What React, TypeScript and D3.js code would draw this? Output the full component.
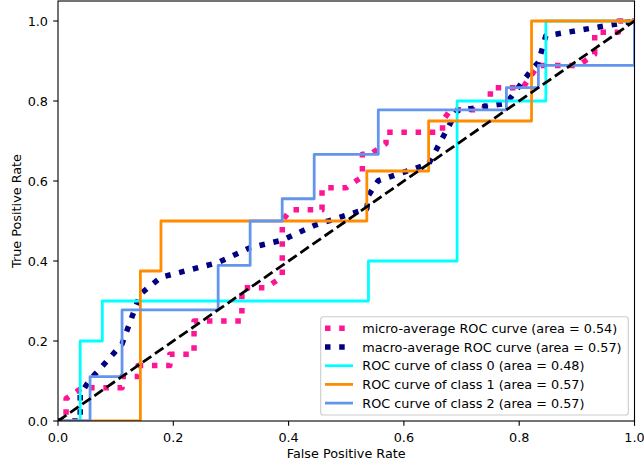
import * as d3 from 'd3';

// ROC curves
const microFpr = [0, 0.014, 0.014, 0.042, 0.111, 0.111, 0.139, 0.139, 0.194, 0.194, 0.236, 0.236, 0.319, 0.319, 0.361, 0.389, 0.389, 0.403, 0.458, 0.458, 0.5, 0.528, 0.528, 0.542, 0.569, 0.569, 0.667, 0.667, 0.681, 0.736, 0.75, 0.75, 0.806, 0.833, 0.903, 0.931, 0.931, 0.972, 0.972, 1];
const microTpr = [0, 0, 0.056, 0.083, 0.083, 0.111, 0.111, 0.139, 0.139, 0.167, 0.167, 0.25, 0.25, 0.333, 0.333, 0.361, 0.5, 0.528, 0.528, 0.583, 0.583, 0.611, 0.667, 0.667, 0.694, 0.722, 0.722, 0.75, 0.778, 0.778, 0.806, 0.833, 0.833, 0.889, 0.889, 0.917, 0.972, 0.972, 1, 1];

const macroFpr = [0, 0.0385, 0.0385, 0.0556, 0.0769, 0.1111, 0.1429, 0.1786, 0.2778, 0.3333, 0.3889, 0.4444, 0.5357, 0.5385, 0.5556, 0.6429, 0.6923, 0.7778, 0.8214, 0.8333, 0.8462, 1];
const macroTpr = [0, 0, 0.0667, 0.1037, 0.137, 0.1926, 0.3176, 0.3593, 0.3963, 0.4333, 0.4519, 0.4889, 0.5306, 0.5639, 0.6009, 0.6426, 0.7759, 0.7944, 0.8778, 0.8963, 0.963, 1];

const class0Fpr = [0, 0.0385, 0.0385, 0.0769, 0.0769, 0.5385, 0.5385, 0.6923, 0.6923, 0.8462, 0.8462, 1];
const class0Tpr = [0, 0, 0.2, 0.2, 0.3, 0.3, 0.4, 0.4, 0.8, 0.8, 1, 1];

const class1Fpr = [0, 0.1429, 0.1429, 0.1786, 0.1786, 0.5357, 0.5357, 0.6429, 0.6429, 0.8214, 0.8214, 1];
const class1Tpr = [0, 0, 0.375, 0.375, 0.5, 0.5, 0.625, 0.625, 0.75, 0.75, 1, 1];

const class2Fpr = [0, 0.0556, 0.0556, 0.1111, 0.1111, 0.2778, 0.2778, 0.3333, 0.3333, 0.3889, 0.3889, 0.4444, 0.4444, 0.5556, 0.5556, 0.7778, 0.7778, 0.8333, 0.8333, 1, 1];
const class2Tpr = [0, 0, 0.1111, 0.1111, 0.2778, 0.2778, 0.3889, 0.3889, 0.5, 0.5, 0.5556, 0.5556, 0.6667, 0.6667, 0.7778, 0.7778, 0.8333, 0.8333, 0.8889, 0.8889, 1];

const xTicks = [0, 0.2, 0.4, 0.6, 0.8, 1.0];
const yTicks = [0, 0.2, 0.4, 0.6, 0.8, 1.0];

const legendLabels = [
  'micro-average ROC curve (area = 0.54)',
  'macro-average ROC curve (area = 0.57)',
  'ROC curve of class 0 (area = 0.48)',
  'ROC curve of class 1 (area = 0.57)',
  'ROC curve of class 2 (area = 0.57)',
];

const W = 644;
const H = 463;
const margin = { left: 58, right: 9.5, top: 1, bottom: 42 };
const FONT = "'DejaVu Sans', sans-serif";
const FS = 12.8;

const DOTTED = '5.5 8.7';
const DASHED = '10.3 4.45';

export default function App() {
  const x = d3.scaleLinear().domain([0, 1]).range([margin.left, W - margin.right]);
  const y = d3.scaleLinear().domain([0, 1.05]).range([H - margin.bottom, margin.top]);

  const line = (fx: number[], ty: number[]) =>
    d3.line<number>().x((_, i) => x(fx[i])).y((_, i) => y(ty[i]))(fx) || '';

  const series = [
    { d: line(microFpr, microTpr), color: '#ff1493', w: 5.5, dash: DOTTED },
    { d: line(macroFpr, macroTpr), color: '#000080', w: 5.5, dash: DOTTED },
    { d: line(class0Fpr, class0Tpr), color: '#00ffff', w: 2.78, dash: undefined },
    { d: line(class1Fpr, class1Tpr), color: '#ff8c00', w: 2.78, dash: undefined },
    { d: line(class2Fpr, class2Tpr), color: '#6495ed', w: 2.78, dash: undefined },
  ];

  const x0 = x(0), x1 = x(1), yb = y(0), yt = y(1.05);

  // legend box
  const lg = { x: 320.7, y: 316.7, w: 307.6, h: 98.3, row: 18.7, first: 328.3 };

  return (
    <svg width={W} height={H} style={{ position: 'absolute', left: 0, top: 0, background: '#fff' }}
      fontFamily={FONT}>
      <defs>
        <clipPath id="plot">
          <rect x={x0} y={yt} width={x1 - x0} height={yb - yt} />
        </clipPath>
      </defs>
      <rect x={0} y={0} width={W} height={H} fill="#fff" />
      <g clipPath="url(#plot)">
        {series.map((s, i) => (
          <path key={i} d={s.d} fill="none" stroke={s.color} strokeWidth={s.w}
            strokeDasharray={s.dash} strokeLinejoin="round" />
        ))}
        <path d={line([0, 1], [0, 1])} fill="none" stroke="#000" strokeWidth={2.78}
          strokeDasharray={DASHED} />
      </g>

      {/* spines */}
      <rect x={x0} y={yt} width={x1 - x0} height={yb - yt} fill="none" stroke="#000" strokeWidth={1.1} />

      {/* x axis */}
      {xTicks.map(t => (
        <g key={'x' + t}>
          <line x1={x(t)} x2={x(t)} y1={yb} y2={yb + 4.8} stroke="#000" strokeWidth={1.1} />
          <text x={x(t)} y={yb + 20.5} textAnchor="middle" fontSize={FS}>{t.toFixed(1)}</text>
        </g>
      ))}
      <text x={(x0 + x1) / 2} y={458} textAnchor="middle" fontSize={FS}>False Positive Rate</text>

      {/* y axis */}
      {yTicks.map(t => (
        <g key={'y' + t}>
          <line x1={x0 - 4.8} x2={x0} y1={y(t)} y2={y(t)} stroke="#000" strokeWidth={1.1} />
          <text x={x0 - 10} y={y(t) + 4.6} textAnchor="end" fontSize={FS}>{t.toFixed(1)}</text>
        </g>
      ))}
      <text transform={`translate(21, ${(yt + yb) / 2}) rotate(-90)`} textAnchor="middle" fontSize={FS}>
        True Positive Rate
      </text>

      {/* legend */}
      <rect x={lg.x} y={lg.y} width={lg.w} height={lg.h} rx={2.8} fill="#fff" fillOpacity={0.8}
        stroke="#cccccc" strokeWidth={1.1} />
      {series.map((s, i) => {
        const cy = lg.first + i * lg.row;
        return (
          <g key={'l' + i}>
            <line x1={325} x2={353} y1={cy} y2={cy} stroke={s.color} strokeWidth={s.w}
              strokeDasharray={s.dash} />
            <text x={362.3} y={cy + 4.6} fontSize={FS}>{legendLabels[i]}</text>
          </g>
        );
      })}
    </svg>
  );
}
